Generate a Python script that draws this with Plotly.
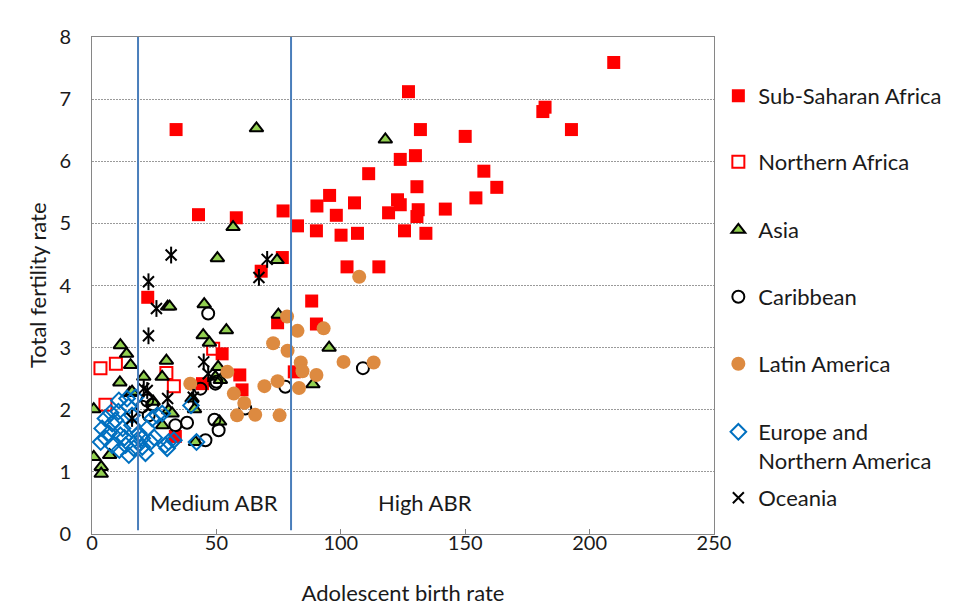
import plotly.graph_objects as go

# Adolescent birth rate (x) and total fertility rate (y) by region
ssa_abr = [33.8, 42.8, 58.0, 76.8, 82.6, 127.2, 132.0, 150.0, 123.9, 130.0, 111.2, 157.5, 162.7,
           95.5, 90.4, 105.5, 122.8, 123.9, 130.6, 154.3, 98.2, 119.2, 131.1, 130.6, 142.0, 209.7,
           182.1, 181.2, 192.7, 90.2, 100.1, 106.7, 125.6, 134.2, 102.5, 115.3, 88.3, 90.2, 81.3,
           76.5, 68.0, 22.4, 74.6, 52.3, 44.4, 59.4, 60.3, 33.5]
ssa_tfr = [6.51, 5.14, 5.09, 5.20, 4.96, 7.12, 6.51, 6.40, 6.03, 6.09, 5.80, 5.84, 5.58,
           5.45, 5.28, 5.33, 5.38, 5.30, 5.59, 5.41, 5.13, 5.17, 5.22, 5.11, 5.23, 7.59,
           6.87, 6.80, 6.51, 4.88, 4.81, 4.84, 4.88, 4.84, 4.30, 4.30, 3.75, 3.38, 2.61,
           4.45, 4.23, 3.81, 3.40, 2.90, 2.42, 2.56, 2.32, 1.57]

naf_abr = [3.4, 9.6, 29.9, 32.9, 48.7, 5.4]
naf_tfr = [2.67, 2.74, 2.59, 2.38, 2.98, 2.08]

asia_abr = [66.1, 117.9, 56.7, 50.4, 74.4, 30.4, 31.2, 45.1, 74.9, 44.7, 54.0, 47.2, 11.4,
            95.3, 88.8, 13.9, 15.5, 29.9, 28.2, 50.7, 49.6, 51.6, 0.7, 11.2, 15.2, 20.8,
            24.6, 30.8, 28.3, 40.2, 41.2, 41.6, 51.3, 0.7, 7.1, 3.7, 3.7, 16.1, 32.2]
asia_tfr = [6.53, 6.35, 4.94, 4.44, 4.41, 3.66, 3.66, 3.70, 3.53, 3.20, 3.28, 3.08, 3.04,
            3.00, 2.41, 2.90, 2.72, 2.79, 2.53, 2.69, 2.53, 2.48, 2.01, 2.44, 2.27, 2.53,
            2.13, 1.99, 1.75, 2.18, 2.01, 1.48, 1.81, 1.24, 1.27, 1.08, 0.97, 2.29, 1.94]

car_abr = [46.7, 49.6, 43.6, 77.7, 108.9, 61.6, 49.2, 50.9, 45.6, 38.2, 33.5, 22.8, 22.2,
           20.2, 24.2, 50.0]
car_tfr = [3.55, 2.42, 2.34, 2.37, 2.67, 2.02, 1.84, 1.67, 1.51, 1.79, 1.75, 1.91, 2.15,
           2.05, 2.08, 2.45]

lat_abr = [78.4, 93.1, 82.6, 72.8, 78.6, 101.1, 113.2, 83.9, 84.6, 90.2, 83.2, 74.6, 69.3,
           75.4, 65.6, 58.3, 61.2, 57.0, 54.4, 39.5, 107.4]
lat_tfr = [3.50, 3.31, 3.27, 3.07, 2.95, 2.77, 2.76, 2.76, 2.62, 2.56, 2.35, 2.46, 2.38,
           1.91, 1.92, 1.91, 2.11, 2.26, 2.61, 2.42, 4.14]

eur_abr = [14.1, 5.4, 10.6, 14.7, 4.1, 8.1, 11.4, 16.1, 18.8, 22.2, 24.2, 26.2, 5.4, 8.1,
           13.5, 16.8, 20.2, 23.5, 14.8, 29.5, 10.8, 16.1, 9.4, 20.2, 28.2, 39.8, 42.0, 32.9,
           30.2, 30.8, 6.8, 12.3, 18.0, 7.5, 3.5, 11.0, 17.5, 21.5, 25.0, 13.0]
eur_tfr = [2.18, 1.86, 1.97, 2.05, 1.70, 1.78, 1.59, 1.75, 1.62, 1.70, 1.86, 1.91, 1.54, 1.43,
           1.43, 1.38, 1.40, 1.48, 1.27, 1.43, 2.15, 1.91, 1.83, 1.54, 1.94, 2.07, 1.48, 1.51,
           1.38, 1.48, 1.62, 1.70, 1.50, 1.95, 1.48, 1.35, 2.20, 1.30, 1.55, 1.55]

oce_abr = [31.8, 70.4, 67.1, 22.7, 25.9, 22.7, 44.9, 46.7, 20.8, 22.2, 30.4, 40.7, 16.1]
oce_tfr = [4.49, 4.42, 4.13, 4.06, 3.63, 3.19, 2.77, 2.58, 2.34, 2.31, 2.18, 2.20, 1.86]

# ABR group thresholds and labels
thresholds = [18.5, 80]
band_labels = ["Medium ABR", "High ABR"]
band_label_x = [49, 134]
band_label_y = 0.51

FONT = "Lato, Calibri, sans-serif"
TEXT = "#1a1a1a"
BLUE_LINE = "#4a7ebb"

fig = go.Figure()

series = [
    ("Sub-Saharan Africa", ssa_abr, ssa_tfr,
     dict(symbol="square", size=13, color="#ff0000", line=dict(width=0))),
    ("Northern Africa", naf_abr, naf_tfr,
     dict(symbol="square-open", size=12, color="#ff0000", line=dict(width=2))),
    ("Asia", asia_abr, asia_tfr,
     dict(symbol="triangle-up", size=12, color="#92d050", line=dict(width=2, color="#000000"))),
    ("Caribbean", car_abr, car_tfr,
     dict(symbol="circle-open", size=12, color="#000000", line=dict(width=2))),
    ("Latin America", lat_abr, lat_tfr,
     dict(symbol="circle", size=14, color="#dd8a40", line=dict(width=0))),
    ("Europe and<br>Northern America", eur_abr, eur_tfr,
     dict(symbol="diamond-open", size=12, color="#0070c0", line=dict(width=2))),
    ("Oceania", oce_abr, oce_tfr,
     dict(symbol="x-thin-open", size=11, color="#000000", line=dict(width=2))),
]

legend_py = [96, 162, 230, 297, 364, 432, 498]
plot_left, plot_right = 91.5, 714
plot_top, plot_bottom = 37, 534
plot_w = plot_right - plot_left
plot_h = plot_bottom - plot_top

for i, (name, xs, ys, mk) in enumerate(series):
    lg = "legend" if i == 0 else f"legend{i + 1}"
    fig.add_trace(go.Scatter(x=xs, y=ys, mode="markers", name=name, marker=mk,
                             legend=lg, showlegend=True))
    if name == "Oceania":
        # vertical stroke completing the star marker
        fig.add_trace(go.Scatter(x=xs, y=ys, mode="markers", showlegend=False, hoverinfo="skip",
                                 marker=dict(symbol="line-ns-open", size=12, color="#000000",
                                             line=dict(width=2))))

for t in thresholds:
    fig.add_shape(type="line", x0=t, x1=t, y0=0.06, y1=8, xref="x", yref="y",
                  line=dict(color=BLUE_LINE, width=2))

for lab, lx in zip(band_labels, band_label_x):
    fig.add_annotation(x=lx, y=band_label_y, text=lab, showarrow=False,
                       font=dict(family=FONT, size=22, color=TEXT))

# vertical axis title placed as a rotated annotation
fig.add_annotation(x=(37 - plot_left) / plot_w, y=0.5, xref="paper", yref="paper",
                   text="Total fertility rate", textangle=-90, showarrow=False,
                   xanchor="center", yanchor="middle",
                   font=dict(family=FONT, size=22, color=TEXT))

legend_layout = {}
for i, py in enumerate(legend_py):
    key = "legend" if i == 0 else f"legend{i + 1}"
    legend_layout[key] = dict(
        x=1.007, xanchor="left",
        y=(plot_bottom - py + 21) / plot_h, yanchor="top",
        valign="top",
        font=dict(family=FONT, size=22, color=TEXT),
        bgcolor="rgba(0,0,0,0)", borderwidth=0,
    )

fig.update_layout(
    width=954, height=606,
    margin=dict(l=plot_left, r=954 - plot_right, t=plot_top, b=606 - plot_bottom,
                autoexpand=False),
    paper_bgcolor="white", plot_bgcolor="white",
    font=dict(family=FONT, size=20, color=TEXT),
    xaxis=dict(range=[0, 250], dtick=50, tick0=0, showgrid=False, zeroline=False,
               showline=True, linecolor="#868686", linewidth=1, mirror=True,
               ticks="inside", ticklen=5, tickcolor="#868686", ticklabelstandoff=-9,
               title=dict(text="Adolescent birth rate", standoff=34,
                          font=dict(family=FONT, size=22, color=TEXT)),
               tickfont=dict(family=FONT, size=20, color=TEXT)),
    yaxis=dict(range=[0, 8], dtick=1, tick0=0, showgrid=True, gridcolor="#9a9a9a",
               griddash="2px,1px", gridwidth=1, zeroline=False,
               showline=True, linecolor="#868686", linewidth=1, mirror=True,
               ticks="", ticklabelstandoff=16,
               tickfont=dict(family=FONT, size=20, color=TEXT)),
    **legend_layout,
)

fig.write_html("out.html")
